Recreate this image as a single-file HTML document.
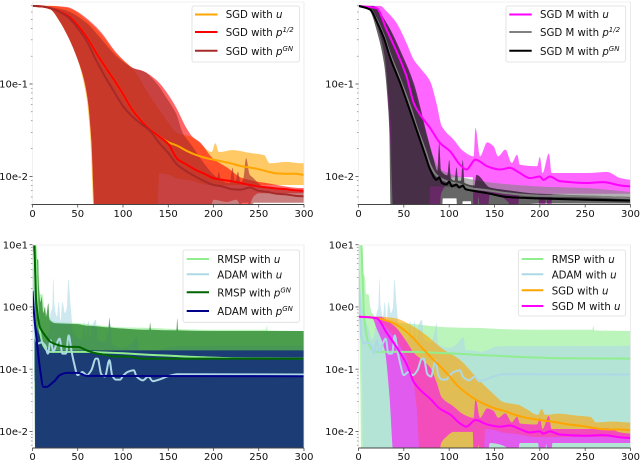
<!DOCTYPE html>
<html>
<head>
<meta charset="utf-8">
<style>
html,body{margin:0;padding:0;background:#fff;}
svg{display:block;font-family:"DejaVu Sans","Liberation Sans",sans-serif;filter:blur(0.35px);}
text{fill:#111;}
.lg{font-size:10.2px;}
.sup{font-size:7px;font-style:italic;}
</style>
</head>
<body>
<svg id="chart" xmlns="http://www.w3.org/2000/svg" width="640" height="461" viewBox="0 0 640 461">
<rect width="640" height="461" fill="#fff"/>
<g id="panel-tl"></g>
<g id="panel-tr"></g>
<g id="panel-bl"></g>
<g id="panel-br"></g>

<g>
<rect x="192" y="6" width="107.5" height="56" rx="2" fill="#fff" fill-opacity="0.8" stroke="#ddd" stroke-width="0.8"/>
<line x1="195" x2="217.5" y1="14.5" y2="14.5" stroke="orange" stroke-width="2"/>
<text class="lg" x="225.7" y="18">SGD with <tspan font-style="italic">u</tspan></text>
<line x1="195" x2="217.5" y1="32" y2="32" stroke="red" stroke-width="2"/>
<text class="lg" x="225.7" y="36">SGD with <tspan font-style="italic">p</tspan><tspan class="sup" dy="-4">1/2</tspan></text>
<line x1="195" x2="217.5" y1="50.7" y2="50.7" stroke="brown" stroke-width="2"/>
<text class="lg" x="225.7" y="55">SGD with <tspan font-style="italic">p</tspan><tspan class="sup" dy="-4">GN</tspan></text>
</g>

<g>
<rect x="506" y="6" width="119.7" height="56" rx="2" fill="#fff" fill-opacity="0.8" stroke="#ddd" stroke-width="0.8"/>
<line x1="509.3" x2="531.7" y1="14.5" y2="14.5" stroke="magenta" stroke-width="2"/>
<text class="lg" x="540" y="18">SGD M with <tspan font-style="italic">u</tspan></text>
<line x1="509.3" x2="531.7" y1="32" y2="32" stroke="gray" stroke-width="2"/>
<text class="lg" x="540" y="36">SGD M with <tspan font-style="italic">p</tspan><tspan class="sup" dy="-4">1/2</tspan></text>
<line x1="509.3" x2="531.7" y1="50.7" y2="50.7" stroke="black" stroke-width="2"/>
<text class="lg" x="540" y="55">SGD M with <tspan font-style="italic">p</tspan><tspan class="sup" dy="-4">GN</tspan></text>
</g>

<g>
<rect x="183" y="250" width="116.5" height="72.3" rx="2" fill="#fff" fill-opacity="0.8" stroke="#ddd" stroke-width="0.8"/>
<line x1="186.7" x2="209" y1="259" y2="259" stroke="lightgreen" stroke-width="2"/>
<text class="lg" x="217.3" y="263">RMSP with <tspan font-style="italic">u</tspan></text>
<line x1="186.7" x2="209" y1="274.3" y2="274.3" stroke="lightblue" stroke-width="2"/>
<text class="lg" x="217.3" y="278.3">ADAM with <tspan font-style="italic">u</tspan></text>
<line x1="186.7" x2="209" y1="292.3" y2="292.3" stroke="darkgreen" stroke-width="2"/>
<text class="lg" x="217.3" y="296.5">RMSP with <tspan font-style="italic">p</tspan><tspan class="sup" dy="-4">GN</tspan></text>
<line x1="186.7" x2="209" y1="311" y2="311" stroke="darkblue" stroke-width="2"/>
<text class="lg" x="217.3" y="315">ADAM with <tspan font-style="italic">p</tspan><tspan class="sup" dy="-4">GN</tspan></text>
</g>

<g>
<rect x="518.3" y="250" width="107.4" height="66" rx="2" fill="#fff" fill-opacity="0.8" stroke="#ddd" stroke-width="0.8"/>
<line x1="521.7" x2="543.3" y1="259" y2="259" stroke="lightgreen" stroke-width="2"/>
<text class="lg" x="551.7" y="263">RMSP with <tspan font-style="italic">u</tspan></text>
<line x1="521.7" x2="543.3" y1="274.3" y2="274.3" stroke="lightblue" stroke-width="2"/>
<text class="lg" x="551.7" y="278.3">ADAM with <tspan font-style="italic">u</tspan></text>
<line x1="521.7" x2="543.3" y1="290.3" y2="290.3" stroke="orange" stroke-width="2"/>
<text class="lg" x="551.7" y="294.3">SGD with <tspan font-style="italic">u</tspan></text>
<line x1="521.7" x2="543.3" y1="306" y2="306" stroke="magenta" stroke-width="2"/>
<text class="lg" x="551.7" y="310">SGD M with <tspan font-style="italic">u</tspan></text>
</g>
</svg>

<script>
// ---------- tick labels ----------
const xTickValues = [0, 50, 100, 150, 200, 250, 300];
const yTickValuesTop = [0.1, 0.01];
const yTickLabelsTop = ["10e-1", "10e-2"];
const yTickValuesBottom = [10, 1, 0.1, 0.01];
const yTickLabelsBottom = ["10e1", "10e0", "10e-1", "10e-2"];

// ---------- shared epochs for smooth means ----------
const epochs10 = [0,10,20,30,40,50,60,70,80,90,100,110,120,130,140,150,160,170,180,190,200,210,220,230,240,250,260,270,280,290,300];

// ---------- SGD with u ----------
const sgdUMean = [.70,.69,.66,.61,.54,.43,.32,.22,.155,.111,.078,.053,.04,.032,.027,.0235,.0215,.019,.0172,.016,.0152,.0145,.0138,.013,.0125,.012,.0113,.0108,.0107,.0107,.0104];
const sgdUHiX = [0,20,40,60,75,93,111,130,148,160,177,185,198,202,206,221,240,256,262,280,298,300];
const sgdUHi = [.70,.70,.66,.49,.35,.21,.145,.074,.041,.0295,.0265,.0229,.0184,.0229,.0184,.0193,.018,.017,.0139,.0144,.0139,.0139];
const sgdULoX = [0,10,20,30,40,50,55,60,64,68,138,140,150,160,170,180,190,200,220,240,260,280,300];
const sgdULo = [.70,.68,.637,.476,.314,.183,.121,.068,.025,.004,.004,.0108,.0105,.0095,.0092,.0088,.0082,.0081,.0081,.0081,.0081,.0081,.0081];

// ---------- SGD with p^1/2 ----------
const sgdP12Mean = [.70,.69,.66,.61,.54,.43,.32,.22,.155,.111,.078,.053,.04,.032,.027,.0225,.0155,.0135,.0118,.0107,.0096,.0092,.0089,.0085,.0081,.0078,.0076,.0074,.0073,.0071,.0070];
const sgdP12HiX = [0,20,38,49,60,75,93,104,111,123,137,148,159,170,177,185,199,215,232,258,298,300];
const sgdP12Hi = [.70,.70,.68,.61,.51,.37,.216,.168,.149,.137,.110,.082,.055,.0335,.0267,.0235,.0158,.0125,.0096,.0085,.0075,.0075];
const sgdP12LoX = [0,10,20,30,40,50,56,61,65,69,195,200,215,225,235,245,250,300];
const sgdP12Lo = [.70,.68,.637,.476,.314,.183,.121,.068,.025,.004,.004,.0056,.0053,.0056,.004,.0062,.0066,.0066];

// ---------- SGD with p^GN ----------
const sgdGnMean = [.70,.69,.66,.60,.52,.40,.29,.183,.121,.083,.0575,.0447,.037,.031,.023,.018,.0134,.0114,.01,.0089,.0081,.0078,.0073,.0072,.0076,.007,.0068,.0065,.0064,.0062,.0061];
const sgdGnHiX = [0,10,20,30,38,60,75,93,111,123,137,148,159,166,174,192,200,204,206,208,218,221,224,227,230,233,236,240,243,258,300];
const sgdGnHi = [.70,.70,.68,.65,.62,.457,.314,.199,.149,.137,.102,.071,.047,.0295,.023,.0129,.0105,.0098,.0113,.0092,.0085,.0124,.0085,.0113,.0085,.0095,.0158,.0105,.0098,.0075,.0069];
const sgdGnLoX = [0,10,20,30,40,50,56,61,65,69,225,232,238,240,245,300];
const sgdGnLo = [.70,.68,.637,.476,.314,.183,.121,.068,.025,.004,.004,.0052,.0052,.0047,.0052,.0052];

// ---------- SGD M with u ----------
const sgdmUMeanX = [0,20,31,42,53,61,68,79,90,101,112,119,129,142,156,167,178,189,200,204,211,222,252,270,289,300];
const sgdmUMean = [.70,.66,.386,.225,.121,.062,.0466,.0334,.023,.0187,.0134,.0119,.0152,.0129,.0119,.0124,.0109,.0096,.01,.0092,.01,.0089,.0085,.0087,.008,.0078];
const sgdmUHiX = [0,24,31,42,53,61,68,79,86,92,105,116,127,129,134,142,149,154,162,169,175,178,197,200,203,210,213,252,274,289,300];
const sgdmUHi = [.70,.70,.61,.457,.277,.183,.149,.107,.062,.0348,.025,.0187,.0165,.0334,.0165,.0234,.0212,.0165,.0195,.014,.0172,.0134,.0129,.0163,.0109,.0177,.0109,.0109,.0112,.0096,.0092];
const sgdmULoX = [0,15,20,29,34,39,89,91,97,105,126,127,131,132,135,142,145,155,165,170,175,178,198,200,205,207,209,212,214,300];
const sgdmULo = [.70,.66,.45,.2,.04,.004,.004,.0064,.0082,.0098,.0098,.004,.004,.006,.004,.004,.0065,.0062,.0053,.004,.004,.0065,.0065,.004,.004,.0062,.004,.004,.0065,.0065];

// ---------- SGD M with p^1/2 ----------
const sgdmP12MeanX = [0,13,20,28,35,46,57,64,74,79,86,97,112,123,142,164,197,252,300];
const sgdmP12Mean = [.70,.637,.495,.33,.207,.111,.057,.0348,.0187,.0134,.0103,.0089,.0082,.0075,.0071,.0066,.0062,.0061,.0058];
const sgdmP12HiX = [0,15,31,49,61,68,75,90,120,150,200,250,300];
const sgdmP12Hi = [.70,.70,.44,.18,.09,.05,.028,.012,.0095,.0085,.0078,.0075,.0068];
const sgdmP12LoX = [0,13,20,28,33,36,38,78,79,95,130,160,200,300];
const sgdmP12Lo = [.70,.64,.44,.22,.08,.035,.004,.004,.0078,.0078,.0072,.0066,.0058,.0052];

// ---------- SGD M with p^GN ----------
const sgdmGnMeanX = [0,13,20,28,35,46,57,64,74,79,86,89,92,97,100,103,108,111,115,118,123,142,164,197,252,300];
const sgdmGnMean = [.70,.637,.476,.314,.191,.102,.0507,.032,.0165,.0119,.0092,.0098,.0085,.0082,.0088,.0078,.0082,.0076,.008,.0073,.0071,.0066,.006,.0058,.0056,.0055];
const sgdmGnHiX = [0,16,31,49,61,68,75,83,87,89,91,98,100,102,106,108,110,113,115,117,128,130,145,160,200,300];
const sgdmGnHi = [.70,.70,.457,.199,.102,.057,.0295,.0152,.0115,.023,.0115,.0103,.0151,.0095,.009,.0125,.009,.009,.0151,.0085,.008,.0104,.0076,.0072,.0065,.006];
const sgdmGnLoX = [0,8,13,20,28,33,34,35.5,92,93,108,109,114,115,124,125,200,300];
const sgdmGnLo = [.70,.69,.61,.38,.17,.05,.03,.004,.004,.0058,.0058,.004,.004,.0054,.0054,.004,.0051,.0051];

// ---------- RMSP with u ----------
const rmspUMeanX = [0,3,4.5,6,8,12,18,30,60,80,100,130,150,180,220,300];
const rmspUMean = [10.5,10.5,3,.8,.42,.24,.19,.19,.19,.185,.18,.17,.165,.157,.15,.148];
const rmspUHiX = [0,4,5.5,7,8.5,11,13,15,25,50,100,130,160,200,258,259,260,300];
const rmspUHi = [10.5,10.5,3.5,3,1.6,1.6,1,.8,.58,.55,.47,.46,.44,.43,.43,.5,.42,.41];
const rmspULoX = [0,1,2,3,300];
const rmspULo = [10,.5,.05,.004,.004];

// ---------- ADAM with u ----------
const adamUMeanX = [0,3,6,10,14,17,20,23,26,30,33,37,40,43,46,50,55,60,65,70,72,76,80,85,88,92,97,100,105,112,115,122,128,133,140,150,160,300];
const adamUMean = [4,.33,.258,.27,.24,.178,.29,.19,.24,.31,.178,.178,.35,.2,.123,.08,.09,.08,.096,.148,.148,.083,.076,.14,.08,.068,.068,.078,.09,.096,.076,.066,.076,.064,.068,.077,.083,.082];
const adamUHiX = [0,2,5,8,12,15,18,20,22,23,24.5,27,29,31,33,36,38,39.6,42,45,48,52,55,57,59,62,64,66,70,72,80,84,86,88,100,108,116,118,125,135,141,152,170,300];
const adamUHi = [5,2,.8,.6,.4,.3,.4,.8,1,2.9,1,.7,1.2,.6,1.2,.8,1,2.8,1.1,.4,.35,.3,.3,.6,.3,.6,.3,.5,.62,.3,.27,.4,.55,.25,.22,.25,.33,.2,.2,.19,.2,.23,.235,.237];
const adamULoX = [0,2,4,5,300];
const adamULo = [4,.5,.05,.004,.004];

// ---------- RMSP with p^GN ----------
const rmspGnMeanX = [0,2,3,4,6,8,10,15,20,30,40,50,60,70,80,90,100,110,120,130,300];
const rmspGnMean = [10.5,10.5,3.5,1.3,.7,.48,.42,.33,.274,.24,.228,.228,.2,.18,.17,.16,.16,.157,.148,.148,.147];
const rmspGnHiX = [0,4,5,6.4,7,9,10,12,13.8,15,17.5,19,25,50,60,70,84,85,86,100,129,130,131,159,160,161,200,300];
const rmspGnHi = [10.5,10.5,6,5.6,2.2,1.2,1.45,.8,1,.7,1.14,.62,.55,.53,.5,.49,.47,.67,.47,.45,.43,.56,.43,.42,.65,.42,.41,.41];
const rmspGnLoX = [0,2,2.8,3,300];
const rmspGnLo = [10,5,.5,.004,.004];

// ---------- ADAM with p^GN ----------
const adamGnMeanX = [0,2,5,8,12,16,20,25,30,38,50,60,300];
const adamGnMean = [1.8,.69,.26,.11,.052,.052,.057,.066,.08,.087,.087,.078,.077];
const adamGnHiX = [0,1.5,4,8,12,16,20,300];
const adamGnHi = [1.9,1,.5,.35,.26,.22,.2,.2];
const adamGnLoX = [0,2,3,300];
const adamGnLo = [1.8,.9,.004,.004];

// ---------- panel domains ----------
const topDomain = [0.00498, 0.77];
const bottomDomain = [0.0054, 10.4];

const NS = 'http://www.w3.org/2000/svg';
const ALPHA = 0.6;

function makeScales(left, right, top, bottom, domain) {
  const lo = Math.log10(domain[0]), hi = Math.log10(domain[1]);
  return {
    left: left, right: right, top: top, bottom: bottom,
    x: function (e) { return left + (e / 300) * (right - left); },
    y: function (v) { return bottom - (Math.log10(v) - lo) / (hi - lo) * (bottom - top); }
  };
}

// Monotone cubic segments through pixel points (no overshoot at spikes).
function curveSegments(px, py) {
  const n = px.length;
  if (n < 2) return '';
  const d = [];
  for (let i = 0; i < n - 1; i++) { d.push((py[i + 1] - py[i]) / (px[i + 1] - px[i])); }
  const m = [d[0]];
  for (let i = 1; i < n - 1; i++) {
    m.push(d[i - 1] * d[i] <= 0 ? 0 : 2 * d[i - 1] * d[i] / (d[i - 1] + d[i]));
  }
  m.push(d[n - 2]);
  let out = '';
  for (let i = 0; i < n - 1; i++) {
    const h = (px[i + 1] - px[i]) / 3;
    out += 'C' + (px[i] + h).toFixed(2) + ' ' + (py[i] + m[i] * h).toFixed(2) + ' ' +
      (px[i + 1] - h).toFixed(2) + ' ' + (py[i + 1] - m[i + 1] * h).toFixed(2) + ' ' +
      px[i + 1].toFixed(2) + ' ' + py[i + 1].toFixed(2);
  }
  return out;
}

function addBand(group, s, name, color, hiX, hi, loX, lo) {
  const hx = hiX.map(s.x), hy = hi.map(s.y);
  const lx = loX.map(s.x).reverse(), ly = lo.map(s.y).reverse();
  const dStr = 'M' + hx[0].toFixed(2) + ' ' + hy[0].toFixed(2) + curveSegments(hx, hy) +
    'L' + lx[0].toFixed(2) + ' ' + ly[0].toFixed(2) + curveSegments(lx, ly) + 'Z';
  const el = document.createElementNS(NS, 'path');
  
  
  el.setAttribute('d', dStr);
  el.setAttribute('fill', color);
  el.setAttribute('fill-opacity', ALPHA);
  group.appendChild(el);
}

function addLine(group, s, name, color, xs, ys) {
  const lx = xs.map(s.x), ly = ys.map(s.y);
  const el = document.createElementNS(NS, 'path');
  
  
  el.setAttribute('d', 'M' + lx[0].toFixed(2) + ' ' + ly[0].toFixed(2) + curveSegments(lx, ly));
  el.setAttribute('fill', 'none');
  el.setAttribute('stroke', color);
  el.setAttribute('stroke-width', '2');
  el.setAttribute('stroke-linejoin', 'round');
  group.appendChild(el);
}

function addRule(group, name, x1, y1, x2, y2, color, width) {
  const el = document.createElementNS(NS, 'line');
  
  
  el.setAttribute('x1', x1);
  el.setAttribute('y1', y1);
  el.setAttribute('x2', x2);
  el.setAttribute('y2', y2);
  el.setAttribute('stroke', color);
  el.setAttribute('stroke-width', width);
  group.appendChild(el);
}

function addLabel(group, name, x, y, anchor, str) {
  const el = document.createElementNS(NS, 'text');
  
  
  el.setAttribute('x', x);
  el.setAttribute('y', y);
  el.setAttribute('text-anchor', anchor);
  el.setAttribute('font-size', '10');
  el.textContent = str;
  group.appendChild(el);
}

function addAxes(group, s, yVals, yLabels, xLabelY) {
  const spineTop = Math.max(s.top, s.top > 200 ? 245 : s.top);
  addRule(group, 'top-spine', s.left, spineTop, s.right, spineTop, '#eee', 0.8);
  addRule(group, 'right-spine', s.right, spineTop, s.right, s.bottom, '#e6e6e6', 0.8);
  addRule(group, 'left-spine', s.left, spineTop, s.left, s.bottom, '#eee', 0.8);
  addRule(group, 'x-axis-line', s.left, s.bottom, s.right, s.bottom, '#444', 0.9);
  xTickValues.forEach(function (t) {
    addRule(group, 'x-tick', s.x(t), s.bottom, s.x(t), s.bottom + 3, '#333', 0.7);
    addLabel(group, 'x-tick-label', s.x(t), xLabelY, 'middle', String(t));
  });
  yVals.forEach(function (t, i) {
    addRule(group, 'y-tick', s.left - 3, s.y(t), s.left, s.y(t), '#333', 0.7);
    addLabel(group, 'y-tick-label', s.left - 4.5, s.y(t) + 3.6, 'end', yLabels[i]);
  });
  [1, 0.1, 0.01, 0.001].forEach(function (dec) {
    [2, 3, 4, 5, 6, 7, 8, 9].forEach(function (m) {
      const v = dec * m;
      const py = s.y(v);
      if (py >= s.top && py <= s.bottom) {
        addRule(group, 'y-minor-tick', s.left - 1.6, py, s.left, py, '#555', 0.5);
      }
    });
  });
}

function panelGroup(id, s) {
  const g = document.getElementById(id);
  const clipTop = s.top > 200 ? 245 : s.top;
  const clip = document.createElementNS(NS, 'clipPath');
  clip.setAttribute('id', id + '-clip');
  const r = document.createElementNS(NS, 'rect');
  r.setAttribute('x', s.left);
  r.setAttribute('y', clipTop);
  r.setAttribute('width', s.right - s.left);
  r.setAttribute('height', s.bottom - clipTop);
  clip.appendChild(r);
  g.appendChild(clip);
  const marks = document.createElementNS(NS, 'g');
  
  
  marks.setAttribute('clip-path', 'url(#' + id + '-clip)');
  g.appendChild(marks);
  return { root: g, marks: marks };
}

// ---------- top-left ----------
(function () {
  const s = makeScales(32.5, 304, 2, 204.5, topDomain);
  const p = panelGroup('panel-tl', s);
  addBand(p.marks, s, 'band-sgd-u', 'orange', sgdUHiX, sgdUHi, sgdULoX, sgdULo);
  addBand(p.marks, s, 'band-sgd-p12', 'red', sgdP12HiX, sgdP12Hi, sgdP12LoX, sgdP12Lo);
  addBand(p.marks, s, 'band-sgd-pgn', 'brown', sgdGnHiX, sgdGnHi, sgdGnLoX, sgdGnLo);
  addLine(p.marks, s, 'line-sgd-u', 'orange', epochs10, sgdUMean);
  addLine(p.marks, s, 'line-sgd-p12', 'red', epochs10, sgdP12Mean);
  addLine(p.marks, s, 'line-sgd-pgn', 'brown', epochs10, sgdGnMean);
  addAxes(p.root, s, yTickValuesTop, yTickLabelsTop, 217);
})();

// ---------- top-right ----------
(function () {
  const s = makeScales(358.5, 630.5, 2, 204.5, topDomain);
  const p = panelGroup('panel-tr', s);
  addBand(p.marks, s, 'band-sgdm-u', 'magenta', sgdmUHiX, sgdmUHi, sgdmULoX, sgdmULo);
  addBand(p.marks, s, 'band-sgdm-p12', 'gray', sgdmP12HiX, sgdmP12Hi, sgdmP12LoX, sgdmP12Lo);
  addBand(p.marks, s, 'band-sgdm-pgn', 'black', sgdmGnHiX, sgdmGnHi, sgdmGnLoX, sgdmGnLo);
  addLine(p.marks, s, 'line-sgdm-u', 'magenta', sgdmUMeanX, sgdmUMean);
  addLine(p.marks, s, 'line-sgdm-p12', 'gray', sgdmP12MeanX, sgdmP12Mean);
  addLine(p.marks, s, 'line-sgdm-pgn', 'black', sgdmGnMeanX, sgdmGnMean);
  addAxes(p.root, s, yTickValuesTop, yTickLabelsTop, 217);
})();

// ---------- bottom-left ----------
(function () {
  const s = makeScales(32.5, 304, 243.7, 448, bottomDomain);
  const p = panelGroup('panel-bl', s);
  addBand(p.marks, s, 'band-rmsp-u', 'lightgreen', rmspUHiX, rmspUHi, rmspULoX, rmspULo);
  addBand(p.marks, s, 'band-adam-u', 'lightblue', adamUHiX, adamUHi, adamULoX, adamULo);
  addBand(p.marks, s, 'band-rmsp-pgn', 'darkgreen', rmspGnHiX, rmspGnHi, rmspGnLoX, rmspGnLo);
  addBand(p.marks, s, 'band-adam-pgn', 'darkblue', adamGnHiX, adamGnHi, adamGnLoX, adamGnLo);
  addLine(p.marks, s, 'line-rmsp-u', 'lightgreen', rmspUMeanX, rmspUMean);
  addLine(p.marks, s, 'line-adam-u', 'lightblue', adamUMeanX, adamUMean);
  addLine(p.marks, s, 'line-rmsp-pgn', 'darkgreen', rmspGnMeanX, rmspGnMean);
  addLine(p.marks, s, 'line-adam-pgn', 'darkblue', adamGnMeanX, adamGnMean);
  addAxes(p.root, s, yTickValuesBottom, yTickLabelsBottom, 460);
})();

// ---------- bottom-right ----------
(function () {
  const s = makeScales(358.5, 630.5, 243.7, 448, bottomDomain);
  const p = panelGroup('panel-br', s);
  addBand(p.marks, s, 'band-rmsp-u', 'lightgreen', rmspUHiX, rmspUHi, rmspULoX, rmspULo);
  addBand(p.marks, s, 'band-adam-u', 'lightblue', adamUHiX, adamUHi, adamULoX, adamULo);
  addBand(p.marks, s, 'band-sgd-u', 'orange', sgdUHiX, sgdUHi, sgdULoX, sgdULo);
  addBand(p.marks, s, 'band-sgdm-u', 'magenta', sgdmUHiX, sgdmUHi, sgdmULoX, sgdmULo);
  addLine(p.marks, s, 'line-rmsp-u', 'lightgreen', rmspUMeanX, rmspUMean);
  addLine(p.marks, s, 'line-adam-u', 'lightblue', adamUMeanX, adamUMean);
  addLine(p.marks, s, 'line-sgd-u', 'orange', epochs10, sgdUMean);
  addLine(p.marks, s, 'line-sgdm-u', 'magenta', sgdmUMeanX, sgdmUMean);
  addAxes(p.root, s, yTickValuesBottom, yTickLabelsBottom, 460);
})();
</script>
</body>
</html>
